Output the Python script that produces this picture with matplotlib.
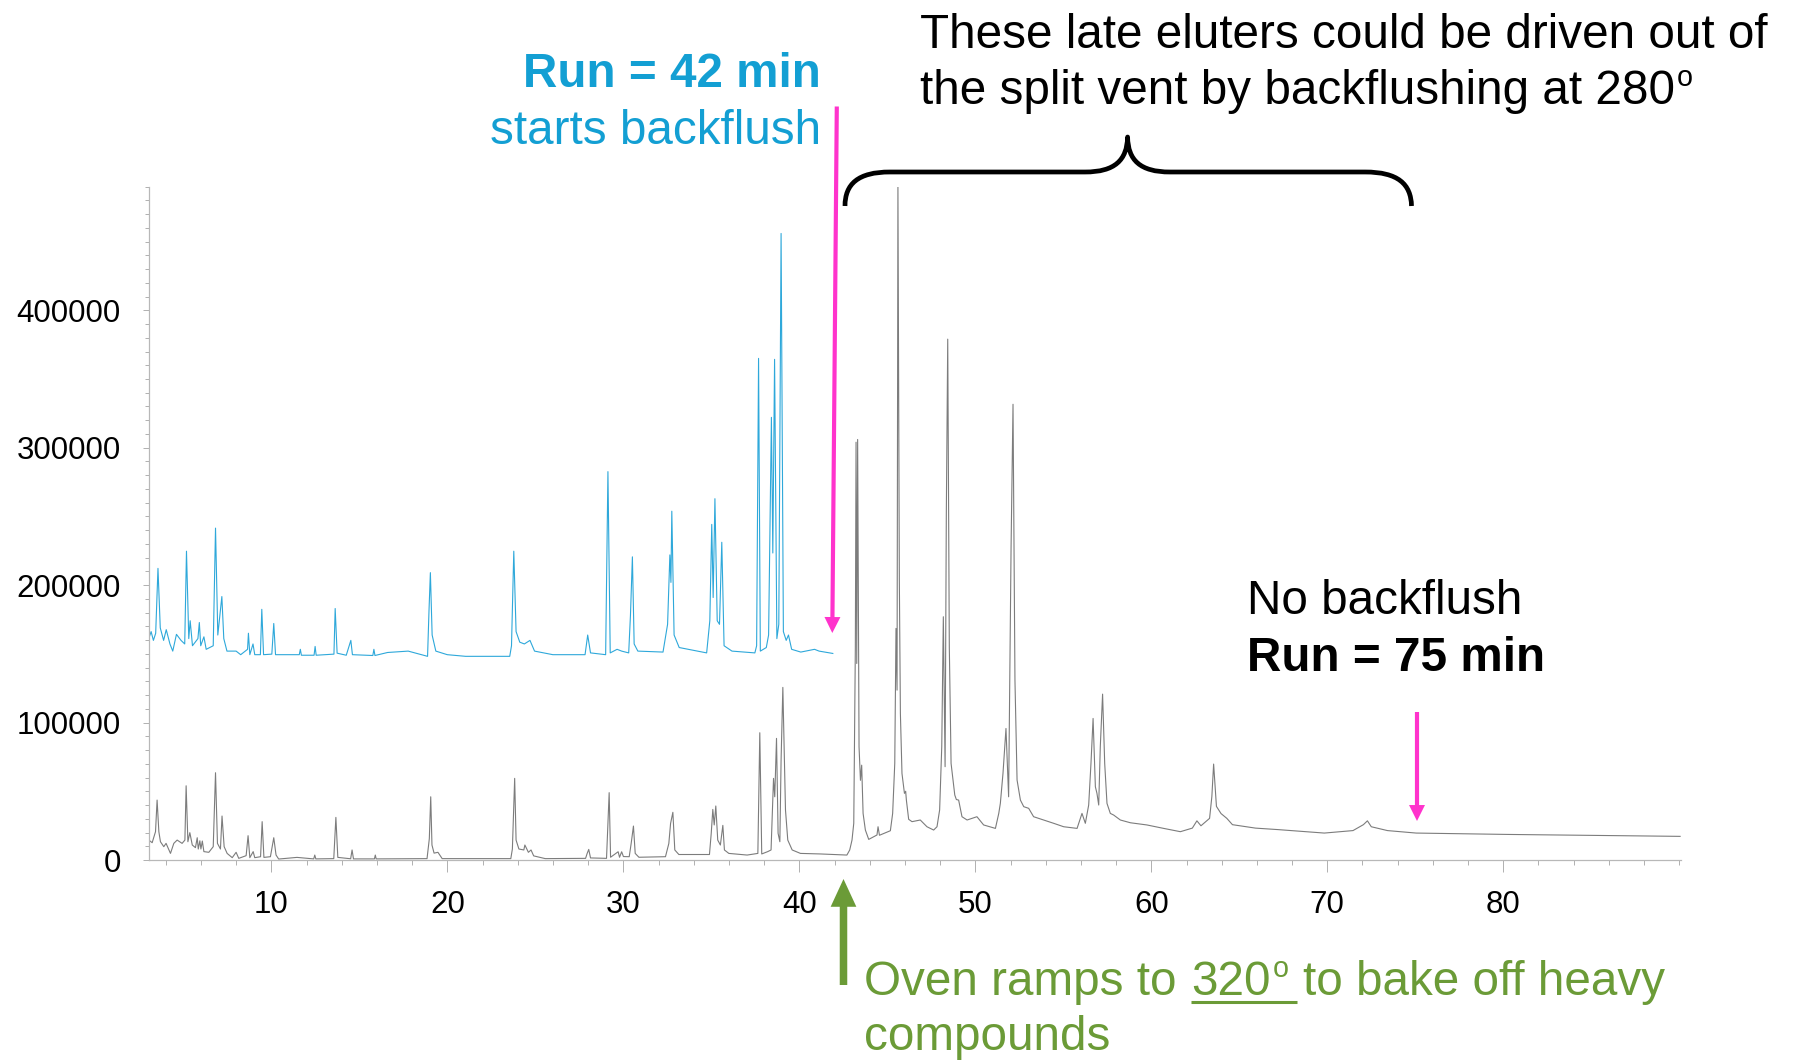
import matplotlib
matplotlib.use('Agg')
import matplotlib.pyplot as plt
from matplotlib.patches import FancyArrowPatch, PathPatch
from matplotlib.path import Path
from matplotlib.lines import Line2D
from matplotlib.ticker import MultipleLocator, FixedLocator

plt.rcParams['font.family'] = ['Liberation Sans', 'DejaVu Sans']

# ---------------- data ----------------
# No backflush run (grey), retention time in min / detector response
gray_time = [3.03, 3.22, 3.41, 3.50, 3.60, 3.69, 3.88, 4.01, 4.26, 4.45, 4.64, 4.92, 5.08, 5.15, 5.25,
             5.36, 5.50, 5.68, 5.78, 5.84, 5.93, 5.99, 6.07, 6.16, 6.44, 6.69, 6.82, 6.93, 7.10, 7.19,
             7.31, 7.48, 7.77, 7.99, 8.14, 8.56, 8.67, 8.77, 8.96, 9.05, 9.38, 9.47, 9.57, 9.94, 10.13,
             10.26, 10.41, 11.45, 12.40, 12.46, 12.52, 13.54, 13.66, 13.77, 14.50, 14.58, 14.66, 15.85,
             15.90, 15.95, 18.84, 18.97, 19.05, 19.12, 19.24, 19.46, 19.70, 23.60, 23.69, 23.82, 23.90,
             24.06, 24.34, 24.40, 24.60, 24.75, 24.90, 25.56, 27.85, 27.94, 28.03, 28.13, 29.04, 29.19,
             29.27, 29.70, 29.78, 29.90, 30.00, 30.33, 30.44, 30.57, 30.67, 30.88, 32.39, 32.58, 32.68,
             32.81, 32.92, 33.15, 34.89, 34.99, 35.08, 35.16, 35.25, 35.36, 35.51, 35.65, 35.74, 35.99,
             37.03, 37.64, 37.75, 37.86, 38.20, 38.39, 38.53, 38.60, 38.70, 38.79, 38.89, 38.96, 39.06,
             39.21, 39.34, 39.59, 40.06, 41.19, 42.70, 42.86, 42.99, 43.09, 43.18, 43.22, 43.26, 43.31,
             43.39, 43.47, 43.54, 43.62, 43.75, 43.94, 44.41, 44.47, 44.55, 45.17, 45.30, 45.42, 45.49,
             45.55, 45.60, 45.68, 45.74, 45.83, 45.97, 46.04, 46.08, 46.21, 46.40, 46.87, 47.25, 47.63,
             47.82, 47.97, 48.09, 48.18, 48.28, 48.35, 48.43, 48.52, 48.62, 48.73, 48.83, 48.92, 49.05,
             49.24, 49.53, 50.09, 50.47, 51.14, 51.33, 51.42, 51.57, 51.74, 51.89, 52.03, 52.14, 52.25,
             52.37, 52.56, 52.75, 53.03, 53.31, 53.88, 54.45, 55.02, 55.78, 56.06, 56.25, 56.44, 56.57,
             56.69, 56.82, 56.91, 57.01, 57.10, 57.23, 57.35, 57.48, 57.67, 57.86, 58.24, 58.81, 59.75,
             60.70, 61.65, 62.33, 62.59, 62.82, 63.31, 63.44, 63.54, 63.70, 63.96, 64.29, 64.61, 65.92,
             67.22, 69.83, 71.46, 72.05, 72.28, 72.50, 73.42, 75.05, 80.27, 90.05]
gray_signal = [14500, 12600, 20600, 43600, 20600, 13300, 9700, 12100, 4800, 12100, 14500, 12100, 14500, 54000, 13300,
               19900, 10900, 9000, 16200, 8000, 14000, 8000, 13800, 6100, 5600, 9700, 63500, 12100, 8000, 32000,
               9700, 4800, 1700, 5600, 1200, 3150, 17700, 1700, 6100, 1700, 2400, 27900, 1900, 2400, 16200,
               3600, 700, 1900, 800, 3600, 800, 1000, 31000, 1900, 900, 7300, 800, 800,
               3600, 800, 1000, 15500, 46000, 10900, 5000, 5600, 1000, 1000, 8000, 59400, 14500,
               8000, 7300, 10900, 5600, 7300, 3000, 1000, 1200, 4800, 7700, 1500, 1200, 49000,
               2000, 6000, 2000, 6000, 2500, 2400, 12000, 24700, 4800, 2000, 2400, 12000, 26600,
               34700, 7300, 4000, 4000, 19400, 36800, 25500, 39300, 14500, 10900, 25200, 7300, 4800,
               3600, 4800, 92600, 4400, 6100, 7300, 59400, 46000, 88500, 19400, 13300, 72700, 125600,
               36400, 14500, 7300, 4800, 4400, 3600, 7300, 14500, 26700, 155000, 304000, 143000, 306000,
               82400, 58000, 69000, 33900, 21800, 15000, 18200, 24200, 18000, 21300, 33900, 70300, 168500,
               123600, 490000, 203600, 106600, 63000, 48500, 50000, 43600, 29600, 27900, 29100, 24200, 21800,
               24200, 36400, 82400, 177000, 67900, 252000, 379000, 155000, 70300, 58200, 47300, 44000, 43600,
               31500, 29100, 31500, 25500, 23000, 33900, 41200, 63000, 95700, 46000, 228000, 331600, 131000,
               58200, 43600, 38800, 37600, 31500, 29100, 26700, 24200, 23000, 33900, 26700, 40000, 70300,
               103000, 53300, 48500, 40000, 82400, 120700, 70300, 41200, 33900, 32700, 29100, 27100, 25500,
               23000, 20600, 23200, 28500, 24900, 30300, 46200, 69800, 39000, 33800, 30300, 25700, 23200,
               22100, 19600, 21400, 25700, 28500, 24200, 21400, 19600, 18600, 17200]

# Backflush run (blue, plotted with its own offset baseline)
blue_time = [3.05, 3.16, 3.29, 3.42, 3.55, 3.68, 3.87, 4.02, 4.23, 4.39, 4.60, 4.86, 5.07, 5.17, 5.30,
             5.38, 5.51, 5.82, 5.90, 5.98, 6.16, 6.29, 6.69, 6.82, 6.95, 7.18, 7.29, 7.47, 7.99, 8.25,
             8.64, 8.69, 8.77, 8.95, 9.05, 9.37, 9.45, 9.55, 10.02, 10.13, 10.23, 11.58, 11.64, 11.70,
             12.42, 12.48, 12.54, 13.55, 13.62, 13.73, 14.25, 14.51, 14.60, 15.76, 15.82, 15.88, 16.60,
             17.77, 18.87, 18.95, 19.03, 19.13, 19.34, 19.99, 21.03, 23.54, 23.64, 23.77, 23.90, 24.11,
             24.37, 24.69, 24.95, 25.99, 27.82, 27.97, 28.13, 28.99, 29.12, 29.25, 29.64, 29.90, 30.30,
             30.40, 30.51, 30.61, 30.82, 32.25, 32.51, 32.64, 32.70, 32.75, 32.88, 33.17, 34.73, 34.91,
             35.02, 35.10, 35.20, 35.33, 35.46, 35.59, 35.72, 36.17, 37.47, 37.57, 37.68, 37.78, 38.12,
             38.25, 38.41, 38.49, 38.59, 38.72, 38.83, 38.96, 39.09, 39.25, 39.38, 39.56, 40.08, 40.86,
             41.12, 41.90]
blue_signal = [162000, 166200, 159800, 165000, 212200, 168900, 159800, 167600, 157200, 152000, 164200, 159800, 157200, 224700, 161100,
               174100, 155900, 161100, 172800, 155900, 162400, 153300, 155900, 241500, 163700, 191700, 161100, 152000, 152000, 149400,
               153300, 165000, 149400, 157200, 149400, 149400, 182400, 149400, 149800, 172100, 149400, 149400, 153300, 149000,
               149000, 155400, 149000, 149800, 183000, 150500, 149000, 159800, 149400, 148800, 153300, 148800, 151000,
               152000, 148200, 180800, 209100, 163700, 152000, 149400, 148200, 148200, 155900, 224700, 166200, 158500,
               157200, 159800, 152000, 149400, 149400, 163700, 150700, 149400, 282600, 150700, 153300, 152000, 150700,
               178100, 220600, 157200, 152000, 151300, 171500, 222000, 202000, 253800, 163700, 154600, 150700, 174100,
               244200, 191000, 262900, 174100, 171500, 231200, 155900, 152000, 150700, 155900, 365000, 152000, 154600,
               163700, 322100, 223400, 364300, 161100, 171500, 455900, 166200, 159800, 163700, 153300, 151300, 153300,
               152000, 150300]

x_tick_values = [10, 20, 30, 40, 50, 60, 70, 80]
y_tick_values = [0, 100000, 200000, 300000, 400000]

# ---------------- figure ----------------
W, H = 1795, 1060
fig = plt.figure(figsize=(W / 100, H / 100), dpi=100)
fig.patch.set_facecolor('white')


def F(x, y):
    """full-image pixel (top-left origin) -> figure fraction"""
    return (x / W, 1 - y / H)


ax = fig.add_axes([149 / W, 200 / H, 1532 / W, 673.4 / H])
ax.plot(gray_time, gray_signal, color='#7c7c7c', lw=0.8)
ax.plot(blue_time, blue_signal, color='#2ea8da', lw=0.8)
ax.set_xlim(3.04, 90.1)
ax.set_ylim(0, 490000)

for s in ('top', 'right'):
    ax.spines[s].set_visible(False)
for s in ('left', 'bottom'):
    ax.spines[s].set_color('#b8b8b8')
    ax.spines[s].set_linewidth(0.9)

ax.xaxis.set_major_locator(FixedLocator(x_tick_values))
ax.xaxis.set_minor_locator(MultipleLocator(2))
ax.yaxis.set_major_locator(FixedLocator(y_tick_values))
ax.yaxis.set_minor_locator(MultipleLocator(10000))
ax.set_xticklabels([str(v) for v in x_tick_values])
ax.set_yticklabels([str(v) for v in y_tick_values])
ax.tick_params(axis='x', which='major', length=8.6, width=0.7, color='#b0b0b0', pad=13,
               labelsize=22.5, labelcolor='black')
ax.tick_params(axis='x', which='minor', length=3.6, width=0.7, color='#b0b0b0')
ax.tick_params(axis='y', which='major', length=4.3, width=0.7, color='#b0b0b0', pad=16,
               labelsize=22.5, labelcolor='black')
ax.tick_params(axis='y', which='minor', length=2.6, width=0.7, color='#b0b0b0')

FS = 34.3
BLUE = '#139fd3'
GREEN = '#6b9b37'
MAG = '#ff33cc'
renderer = fig.canvas.get_renderer()
EM = FS * 100 / 72.0          # em size in pixels
SPACE = 0.30 * EM             # space advance plus glyph side bearings


def put(x, y, s, **kw):
    kw.setdefault('fontsize', FS)
    return fig.text(*F(x, y), s, va='baseline', **kw)


def right_edge(t):
    return t.get_window_extent(renderer).x1


def sup_o(t, y, color='black'):
    """small raised 'o' (degree sign) right after text t whose baseline is y"""
    x = right_edge(t) + 2
    return put(x, y - 0.38 * EM, 'o', fontsize=FS * 0.6, color=color, ha='left')


# headline
put(920, 47.7, 'These late eluters could be driven out of', ha='left')
h2 = put(920, 104.5, 'the split vent by backflushing at 280', ha='left')
sup_o(h2, 104.5)

# backflush run label
put(821, 87.3, 'Run = 42 min', fontweight='bold', color=BLUE, ha='right')
put(821, 144, 'starts backflush', color=BLUE, ha='right')

# no backflush label
put(1247, 613.5, 'No backflush', ha='left')
put(1247, 671, 'Run = 75 min', fontweight='bold', ha='left')

# oven text (with underlined 320o)
g1 = put(864, 995, 'Oven ramps to', color=GREEN, ha='left')
g2 = put(right_edge(g1) + SPACE, 995, '320', color=GREEN, ha='left')
g3 = sup_o(g2, 995, GREEN)
g4 = put(right_edge(g3) + SPACE, 995, 'to bake off heavy', color=GREEN, ha='left')
put(864, 1050, 'compounds', color=GREEN, ha='left')
ux0 = g2.get_window_extent(renderer).x0
ux1 = right_edge(g3) + 9
fig.add_artist(Line2D([ux0 / W, ux1 / W], [(H - 1001.5) / H] * 2, transform=fig.transFigure,
                      color=GREEN, lw=2.2, solid_capstyle='butt'))


# arrows
def arrow(p0, p1, color, hl, hw, tw):
    a = FancyArrowPatch(posA=F(*p0), posB=F(*p1), transform=fig.transFigure,
                        arrowstyle=f'simple,head_length={hl},head_width={hw},tail_width={tw}',
                        mutation_scale=1, color=color, lw=0, shrinkA=0, shrinkB=0)
    fig.add_artist(a)


arrow((836.8, 106.5), (832.3, 633), MAG, 11.5, 11.5, 3.0)
arrow((1417, 712), (1417, 821), MAG, 11.5, 11.5, 3.0)
arrow((843.5, 985), (843.5, 879), GREEN, 20, 18.5, 5.4)

# curly brace over the late eluters
bx = [(845, 206), (845, 184), (858, 172), (890, 172), (1085, 172), (1115, 172), (1127, 160), (1127.6, 137),
      (1128, 160), (1140, 172), (1170, 172), (1365, 172), (1398, 172), (1411, 184), (1411.5, 206)]
codes = [Path.MOVETO, Path.CURVE4, Path.CURVE4, Path.CURVE4, Path.LINETO, Path.CURVE4, Path.CURVE4, Path.CURVE4,
         Path.CURVE4, Path.CURVE4, Path.CURVE4, Path.LINETO, Path.CURVE4, Path.CURVE4, Path.CURVE4]
brace = PathPatch(Path([F(*p) for p in bx], codes), transform=fig.transFigure, fill=False,
                  lw=3.4, edgecolor='black', capstyle='butt', joinstyle='round')
fig.add_artist(brace)

fig.savefig('out.png', dpi=100, facecolor='white')
